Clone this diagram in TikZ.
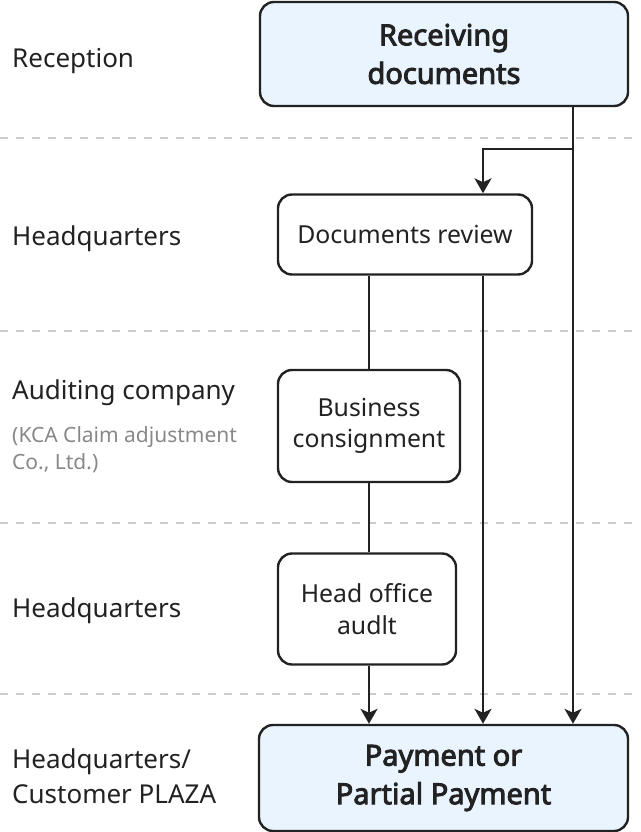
\documentclass[tikz,border=0pt]{standalone}
\usepackage{fontspec}
\setmainfont{Noto Sans}[AutoFakeBold=3.2]
\usetikzlibrary{arrows.meta}
\definecolor{ink}{HTML}{222222}
\definecolor{boxfill}{HTML}{EAF4FF}
\definecolor{dashgray}{HTML}{CCCCCC}
\definecolor{subgray}{HTML}{888888}
\tikzset{
  lane/.style={draw=dashgray, line width=1.8pt, dash pattern=on 8pt off 8pt},
  stepbox/.style={draw=ink, line width=2.4pt, rounded corners=14pt, fill=white, align=center, text=ink, inner sep=0pt, font=\fontsize{24.8}{31.5}\selectfont},
  keybox/.style={stepbox, fill=boxfill, font=\fontsize{29}{38.5}\selectfont\bfseries},
  lanelabel/.style={anchor=base west, text=ink, inner sep=0pt, font=\fontsize{26}{32}\selectfont},
  sublabel/.style={anchor=base west, text=subgray, inner sep=0pt, font=\fontsize{21}{27}\selectfont},
  conn/.style={draw=ink, line width=2.2pt},
  arr/.style={conn, -{Stealth[length=15pt,width=17pt,inset=4pt]}}
}
\begin{document}
\begin{tikzpicture}[x=1pt,y=-1pt]
\useasboundingbox (0,0) rectangle (640,832);
% lane separators
\draw[lane] (0,138) -- (632,138);
\draw[lane] (0,331) -- (632,331);
\draw[lane] (0,523) -- (632,523);
\draw[lane] (0,694) -- (632,694);
% lane labels
\node[lanelabel] (l1) at (12,68) {Reception};
\node[lanelabel] (l2) at (12,245) {Headquarters};
\node[lanelabel] (l3) at (12,399) {Auditing company};
\node[sublabel] (l3a) at (12,442) {(KCA Claim adjustment};
\node[sublabel] (l3b) at (12,469) {Co., Ltd.)};
\node[lanelabel] (l4) at (12,617) {Headquarters};
\node[lanelabel] (l5) at (12,768) {Headquarters/};
\node[lanelabel] (l5b) at (12,803) {Customer PLAZA};
% boxes
\node[keybox, minimum width=368pt, minimum height=104pt] (top) at (444,54) {Receiving\\documents};
\node[stepbox, minimum width=254pt, minimum height=80pt] (rev) at (405,234.5) {Documents review};
\node[stepbox, minimum width=182pt, minimum height=112pt] (bus) at (369,426) {Business\\consignment};
\node[stepbox, minimum width=178pt, minimum height=111pt] (head) at (367,609) {Head office\\audlt};
\node[keybox, minimum width=369pt, minimum height=106pt] (pay) at (443.5,778) {Payment or\\Partial Payment};
% x positions of the vertical connectors
\coordinate (xL) at (369,0);
\coordinate (xM) at (483,0);
\coordinate (xR) at (573,0);
\coordinate (br) at (573,149);
% connectors
\draw[arr] (top.south -| xR) -- (pay.north -| xR);
\draw[arr] (br) -| (rev.north -| xM);
\draw[arr] (rev.south -| xM) -- (pay.north -| xM);
\draw[conn] (rev.south -| xL) -- (bus.north -| xL);
\draw[conn] (bus.south -| xL) -- (head.north -| xL);
\draw[arr] (head.south -| xL) -- (pay.north -| xL);
\end{tikzpicture}
\end{document}
